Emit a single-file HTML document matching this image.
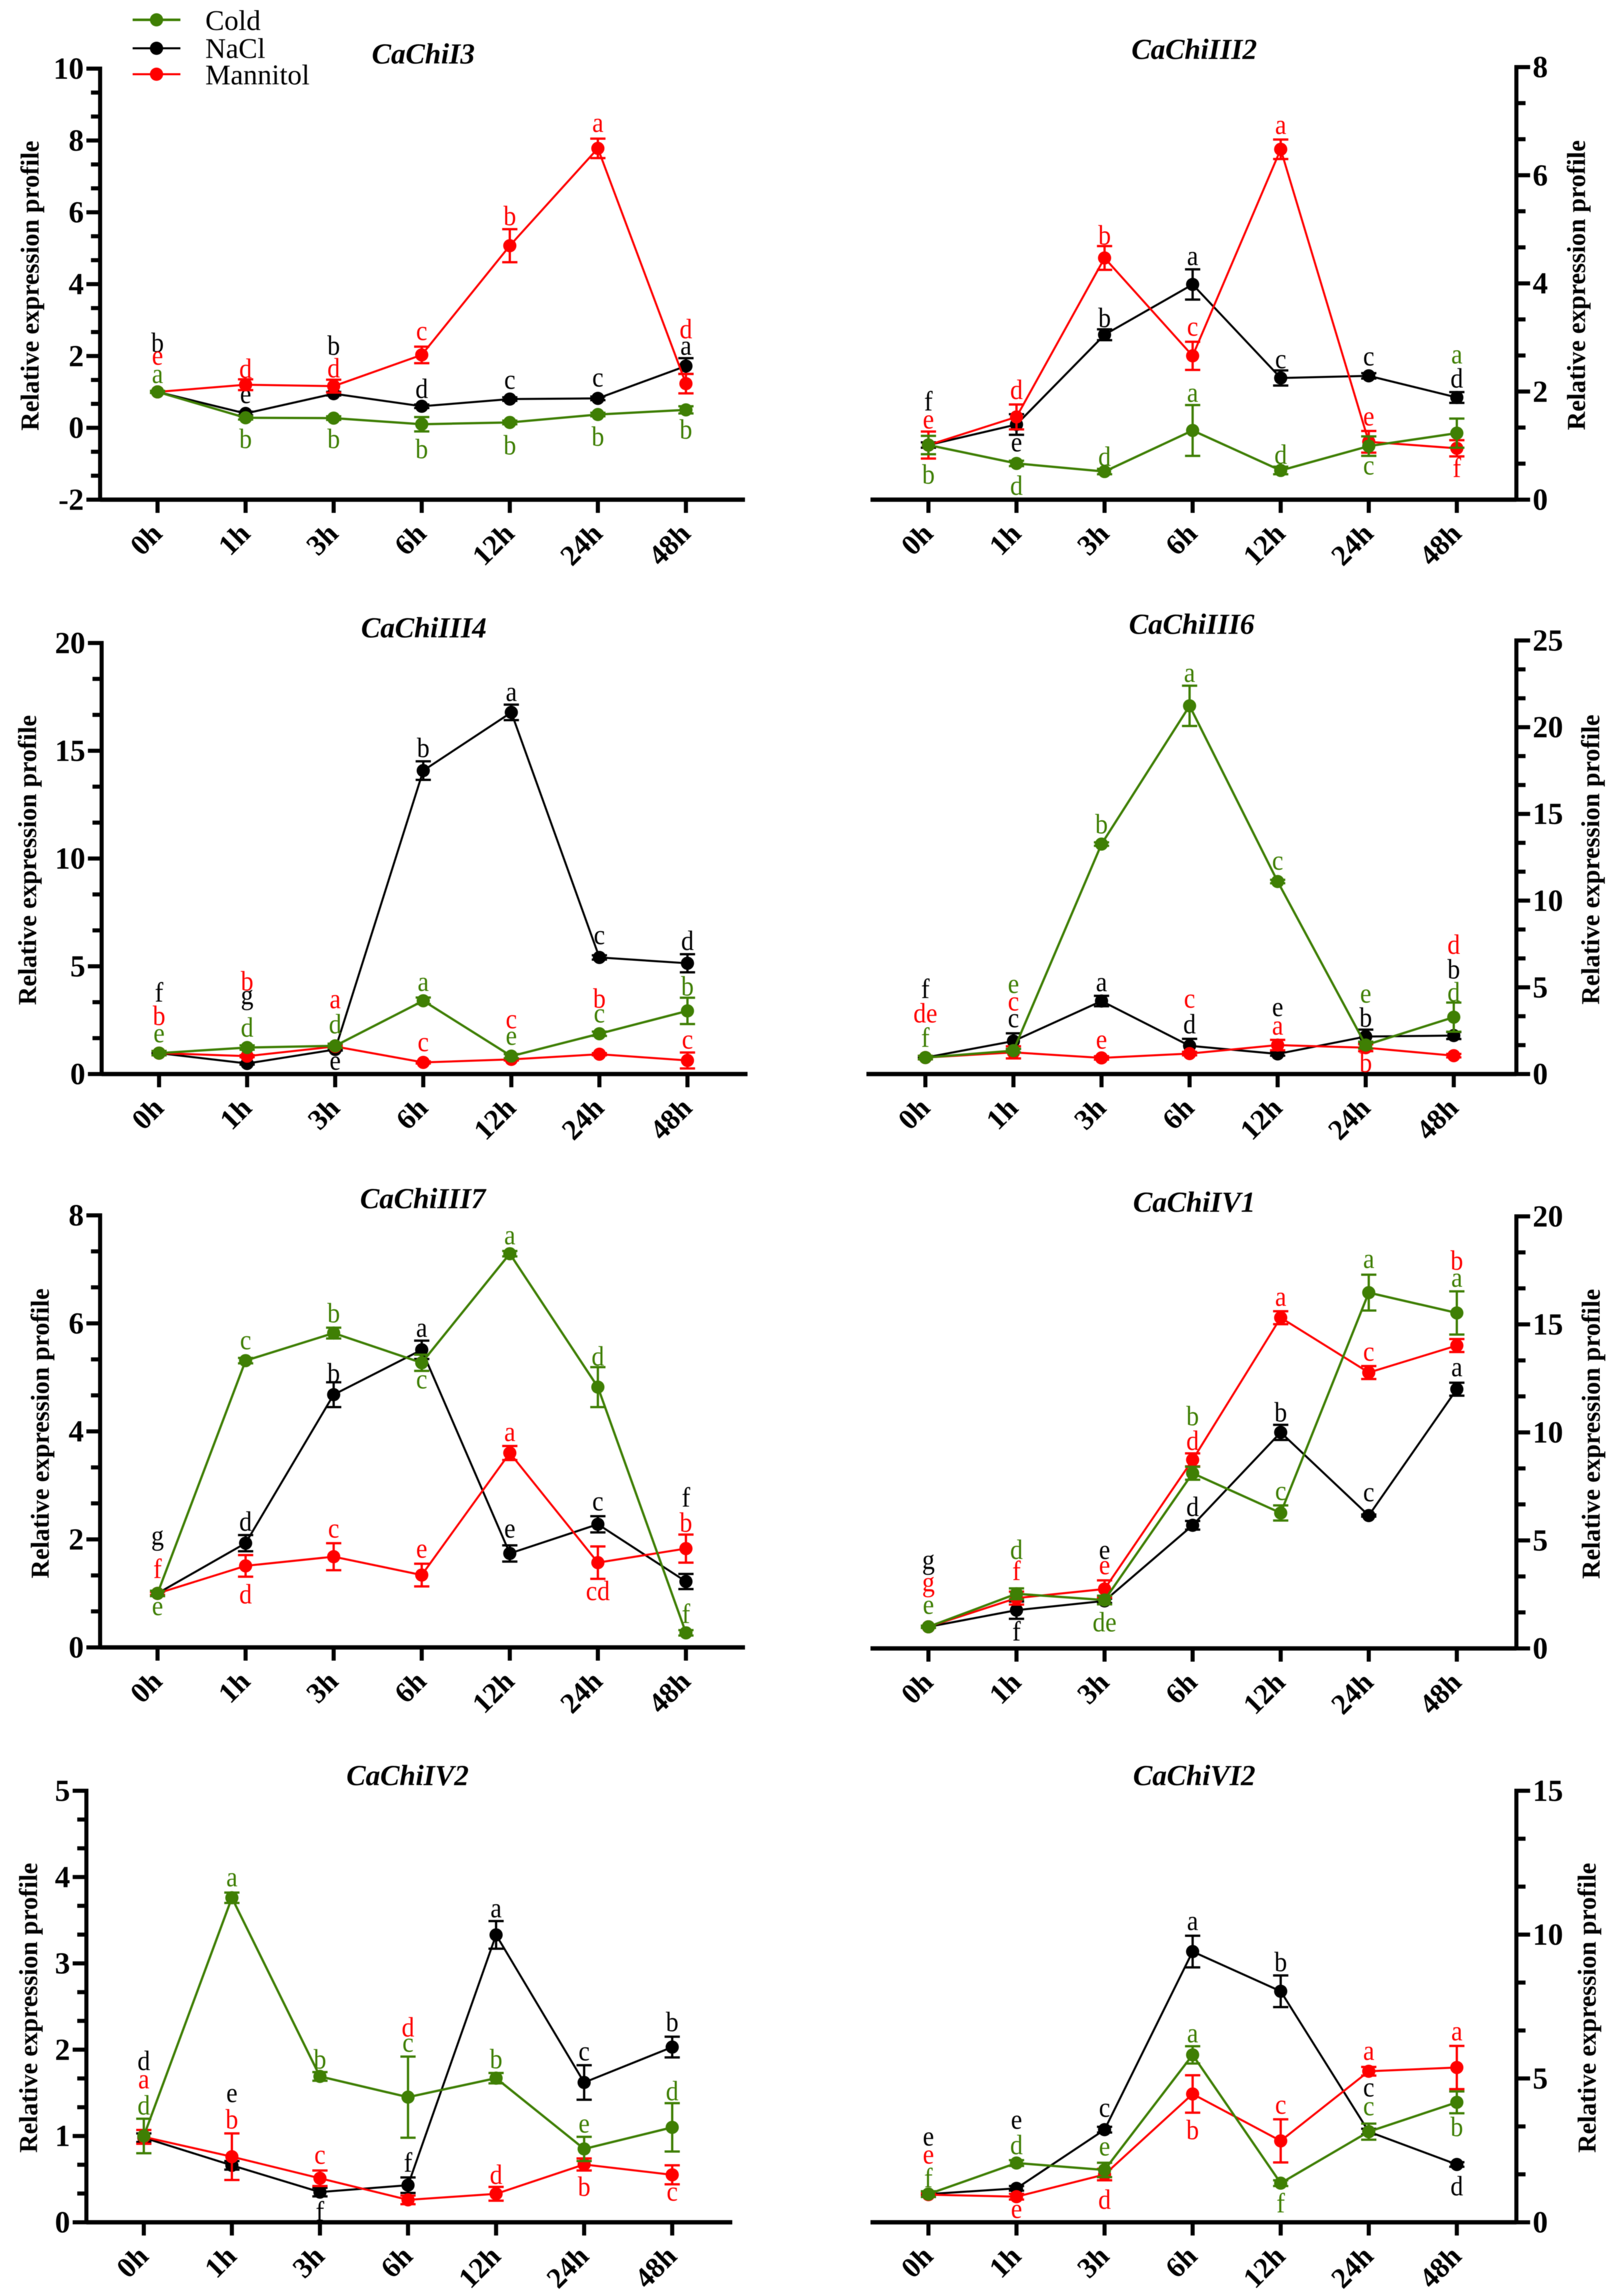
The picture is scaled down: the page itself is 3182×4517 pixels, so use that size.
<!DOCTYPE html>
<html lang="en">
<head>
<meta charset="utf-8">
<title>Relative expression profiles of CaChi genes</title>
<style>
html,body{margin:0;padding:0;background:#fff;}
#figure{display:block;width:3182px;height:4517px;font-family:"Liberation Serif",serif;filter:blur(0.6px);}
.panel-title{font-size:57px;font-weight:bold;font-style:italic;text-anchor:middle;}
.y-title{font-size:50.5px;font-weight:bold;text-anchor:middle;}
.legend-text{font-size:56px;}
</style>
</head>
<body>
<svg id="figure" xmlns="http://www.w3.org/2000/svg" width="3182" height="4517" viewBox="0 0 3182 4517">
  <rect x="0" y="0" width="3182" height="4517" fill="#fff"/>
  <g id="panels"></g>

  <g>
    <text class="panel-title" x="833" y="125">CaChiI3</text>
    <text class="panel-title" x="2350" y="116">CaChiIII2</text>
    <text class="panel-title" x="834" y="1254">CaChiIII4</text>
    <text class="panel-title" x="2345" y="1247">CaChiIII6</text>
    <text class="panel-title" x="832" y="2377">CaChiIII7</text>
    <text class="panel-title" x="2350" y="2384">CaChiIV1</text>
    <text class="panel-title" x="802" y="3512">CaChiIV2</text>
    <text class="panel-title" x="2350" y="3512">CaChiVI2</text>
  </g>

  <g>
    <text class="y-title" transform="translate(76,562) rotate(-90)">Relative expression profile</text>
    <text class="y-title" transform="translate(3119,561) rotate(-90)">Relative expression profile</text>
    <text class="y-title" transform="translate(71,1692) rotate(-90)">Relative expression profile</text>
    <text class="y-title" transform="translate(3147,1691) rotate(-90)">Relative expression profile</text>
    <text class="y-title" transform="translate(96,2820) rotate(-90)">Relative expression profile</text>
    <text class="y-title" transform="translate(3148,2821) rotate(-90)">Relative expression profile</text>
    <text class="y-title" transform="translate(73,3950) rotate(-90)">Relative expression profile</text>
    <text class="y-title" transform="translate(3140,3950) rotate(-90)">Relative expression profile</text>
  </g>

  <g>
    <g>
      <line x1="261" x2="355" y1="39" y2="39" stroke="#3f7f04" stroke-width="5"/>
      <circle cx="308" cy="39" r="13" fill="#3f7f04"/>
      <text class="legend-text" x="404" y="59">Cold</text>
    </g>
    <g>
      <line x1="261" x2="355" y1="95" y2="95" stroke="#000" stroke-width="4"/>
      <circle cx="308" cy="95" r="13" fill="#000"/>
      <text class="legend-text" x="404" y="114">NaCl</text>
    </g>
    <g>
      <line x1="261" x2="355" y1="146" y2="146" stroke="#f00" stroke-width="4"/>
      <circle cx="308" cy="146" r="13" fill="#f00"/>
      <text class="legend-text" x="404" y="166">Mannitol</text>
    </g>
  </g>
</svg>

<script>
// Shared category labels
const categories = ['0h','1h','3h','6h','12h','24h','48h'];

// CaChiI3
const p1Ticks = [-2,0,2,4,6,8,10];
const p1Cold = [1,0.28,0.27,0.1,0.15,0.37,0.5];
const p1ColdErr = [0.03,0.05,0.05,0.2,0.05,0.05,0.1];
const p1ColdLetters = ['a','b','b','b','b','b','b'];
const p1ColdDy = [-30,41,40,48,44,43,38];
const p1Nacl = [1,0.4,0.95,0.6,0.8,0.82,1.72];
const p1NaclErr = [0.02,0.05,0.05,0.05,0.05,0.05,0.22];
const p1NaclLetters = ['b','e','b','d','c','c','a'];
const p1NaclDy = [-97,-33,-95,-35,-33,-36,-35];
const p1Mann = [1,1.2,1.16,2.03,5.07,7.78,1.23];
const p1MannErr = [0.02,0.15,0.18,0.23,0.46,0.27,0.27];
const p1MannLetters = ['e','d','d','c','b','a','d'];
const p1MannDy = [-66,-32,-36,-42,-59,-45,-108];

// CaChiIII2
const p2Ticks = [0,2,4,6,8];
const p2Cold = [1.01,0.67,0.52,1.28,0.54,0.99,1.23];
const p2ColdErr = [0.17,0.05,0.05,0.47,0.07,0.18,0.27];
const p2ColdLetters = ['b','d','d','a','d','c','a'];
const p2ColdDy = [57,43,-30,-69,-32,43,-150];
const p2Nacl = [1.01,1.39,3.05,3.98,2.25,2.29,1.89];
const p2NaclErr = [0.05,0.19,0.1,0.28,0.14,0.05,0.1];
const p2NaclLetters = ['f','e','b','a','c','c','d'];
const p2NaclDy = [-87,40,-34,-51,-32,-33,-38];
const p2Mann = [1.01,1.53,4.47,2.66,6.48,1.07,0.95];
const p2MannErr = [0.25,0.23,0.22,0.26,0.18,0.2,0.15];
const p2MannLetters = ['e','d','b','c','a','e','f'];
const p2MannDy = [-45,-54,-45,-52,-43,-45,38];

// CaChiIII4
const p3Ticks = [0,5,10,15,20];
const p3Cold = [0.97,1.23,1.31,3.4,0.83,1.87,2.93];
const p3ColdErr = [0.1,0.1,0.1,0.15,0.1,0.1,0.61];
const p3ColdLetters = ['e','d','d','a','e','c','b'];
const p3ColdDy = [-34,-40,-43,-32,-35,-35,-49];
const p3Nacl = [0.97,0.49,1.14,14.08,16.78,5.41,5.14];
const p3NaclErr = [0.05,0.05,0.05,0.43,0.36,0.1,0.42];
const p3NaclLetters = ['f','g','e','b','a','c','d'];
const p3NaclDy = [-120,-123,27,-45,-35,-39,-45];
const p3Mann = [0.97,0.83,1.28,0.54,0.68,0.92,0.63];
const p3MannErr = [0.1,0.05,0.05,0.05,0.05,0.05,0.37];
const p3MannLetters = ['b','b','a','c','c','b','c'];
const p3MannDy = [-74,-148,-88,-35,-74,-110,-36];

// CaChiIII6
const p4Ticks = [0,5,10,15,20,25];
const p4Cold = [0.95,1.35,13.26,21.23,11.1,1.67,3.28];
const p4ColdErr = [0.1,0.1,0.1,1.16,0.1,0.2,0.84];
const p4ColdLetters = ['f','e','b','a','c','e','d'];
const p4ColdDy = [-40,-126,-40,-60,-36,-96,-50];
const p4Nacl = [0.95,1.9,4.21,1.63,1.16,2.16,2.22];
const p4NaclErr = [0.05,0.45,0.3,0.4,0.1,0.4,0.2];
const p4NaclLetters = ['f','c','a','d','e','b','b'];
const p4NaclDy = [-136,-40,-32,-43,-87,-38,-131];
const p4Mann = [0.95,1.25,0.93,1.18,1.67,1.52,1.06];
const p4MannErr = [0.1,0.35,0.1,0.1,0.3,0.2,0.1];
const p4MannLetters = ['de','c','e','c','a','b','d'];
const p4MannDy = [-88,-95,-31,-103,-33,29,-219];

// CaChiIII7
const p5Ticks = [0,2,4,6,8];
const p5Cold = [1,5.31,5.82,5.27,7.29,4.82,0.27];
const p5ColdErr = [0.05,0.05,0.1,0.15,0.05,0.37,0.05];
const p5ColdLetters = ['e','c','b','c','a','d','f'];
const p5ColdDy = [30,-35,-40,38,-31,-61,-38];
const p5Nacl = [1,1.93,4.68,5.51,1.74,2.28,1.22];
const p5NaclErr = [0.03,0.15,0.23,0.17,0.15,0.15,0.14];
const p5NaclLetters = ['g','d','b','a','e','c','f'];
const p5NaclDy = [-102,-43,-43,-38,-44,-40,-166];
const p5Mann = [1,1.51,1.68,1.34,3.6,1.57,1.83];
const p5MannErr = [0.03,0.2,0.25,0.21,0.13,0.3,0.26];
const p5MannLetters = ['f','d','c','e','a','cd','b'];
const p5MannDy = [-49,55,-50,-47,-36,61,-52];

// CaChiIV1
const p6Ticks = [0,5,10,15,20];
const p6Cold = [1,2.53,2.24,8.11,6.27,16.47,15.53];
const p6ColdErr = [0.05,0.25,0.2,0.3,0.35,0.83,1];
const p6ColdLetters = ['e','d','de','b','c','a','a'];
const p6ColdDy = [-38,-87,43,-113,-38,-61,-64];
const p6Nacl = [1,1.77,2.2,5.7,10,6.15,12];
const p6NaclErr = [0.05,0.4,0.1,0.2,0.35,0.05,0.3];
const p6NaclLetters = ['g','f','e','d','b','c','a'];
const p6NaclDy = [-120,41,-95,-37,-40,-41,-38];
const p6Mann = [1,2.33,2.75,8.73,15.31,12.77,14.02];
const p6MannErr = [0.05,0.3,0.4,0.3,0.3,0.3,0.3];
const p6MannLetters = ['g','f','e','d','a','c','b'];
const p6MannDy = [-76,-54,-42,-38,-36,-36,-168];

// CaChiIV2
const p7Ticks = [0,1,2,3,4,5];
const p7Cold = [1,3.76,1.69,1.45,1.67,0.85,1.1];
const p7ColdErr = [0.2,0.06,0.05,0.47,0.06,0.14,0.28];
const p7ColdLetters = ['d','a','b','c','b','e','d'];
const p7ColdDy = [-61,-35,-34,-102,-38,-45,-72];
const p7Nacl = [0.98,0.66,0.35,0.43,3.33,1.62,2.03];
const p7NaclErr = [0.05,0.05,0.05,0.09,0.16,0.2,0.12];
const p7NaclLetters = ['d','e','f','f','a','c','b'];
const p7NaclDy = [-152,-137,37,-45,-47,-56,-50];
const p7Mann = [0.99,0.76,0.51,0.26,0.33,0.67,0.55];
const p7MannErr = [0.08,0.27,0.09,0.05,0.08,0.07,0.11];
const p7MannLetters = ['a','b','c','d','d','b','c'];
const p7MannDy = [-108,-74,-41,-340,-38,43,38];

// CaChiVI2
const p8Ticks = [0,5,10,15];
const p8Cold = [0.98,2.06,1.82,5.82,1.36,3.15,4.17];
const p8ColdErr = [0.1,0.1,0.25,0.3,0.1,0.28,0.38];
const p8ColdLetters = ['f','d','e','a','f','c','b'];
const p8ColdDy = [-32,-36,-41,-37,39,-45,48];
const p8Nacl = [0.98,1.18,3.22,9.41,8.03,3.15,2.01];
const p8NaclErr = [0.05,0.08,0.1,0.55,0.55,0.1,0.08];
const p8NaclLetters = ['e','e','c','a','b','c','d'];
const p8NaclDy = [-108,-130,-38,-55,-58,-82,42];
const p8Mann = [0.96,0.89,1.66,4.46,2.83,5.25,5.38];
const p8MannErr = [0.05,0.1,0.2,0.65,0.75,0.15,0.75];
const p8MannLetters = ['e','e','d','b','c','a','a'];
const p8MannDy = [-74,29,49,70,-66,-35,-66];

const GREEN = '#3f7f04', RED = '#ff0000', BLACK = '#000000';
const SVGNS = 'http://www.w3.org/2000/svg';

function shape(parent, tag, attrs, text) {
  const node = document.createElementNS(SVGNS, tag);
  for (const k in attrs) node.setAttribute(k, attrs[k]);
  if (text !== undefined) node.textContent = text;
  parent.appendChild(node);
  return node;
}

// Panel frame geometry lives here; the data lives in the arrays above.
const panelFrames = [
  {id:'cachii3',   side:'left',  axisX:197, far:1466, top:135,  bottom:983,  tick0:310, ticks:p1Ticks,
   cold:[p1Cold,p1ColdErr,p1ColdLetters,p1ColdDy], nacl:[p1Nacl,p1NaclErr,p1NaclLetters,p1NaclDy], mann:[p1Mann,p1MannErr,p1MannLetters,p1MannDy]},
  {id:'cachiiii2', side:'right', axisX:2984, far:1713, top:132,  bottom:983,  tick0:1827, ticks:p2Ticks,
   cold:[p2Cold,p2ColdErr,p2ColdLetters,p2ColdDy], nacl:[p2Nacl,p2NaclErr,p2NaclLetters,p2NaclDy], mann:[p2Mann,p2MannErr,p2MannLetters,p2MannDy]},
  {id:'cachiiii4', side:'left',  axisX:200, far:1471, top:1265, bottom:2113, tick0:313, ticks:p3Ticks,
   cold:[p3Cold,p3ColdErr,p3ColdLetters,p3ColdDy], nacl:[p3Nacl,p3NaclErr,p3NaclLetters,p3NaclDy], mann:[p3Mann,p3MannErr,p3MannLetters,p3MannDy]},
  {id:'cachiiii6', side:'right', axisX:2984, far:1705, top:1260, bottom:2113, tick0:1821, ticks:p4Ticks,
   cold:[p4Cold,p4ColdErr,p4ColdLetters,p4ColdDy], nacl:[p4Nacl,p4NaclErr,p4NaclLetters,p4NaclDy], mann:[p4Mann,p4MannErr,p4MannLetters,p4MannDy]},
  {id:'cachiiii7', side:'left',  axisX:197, far:1466, top:2391, bottom:3241, tick0:310, ticks:p5Ticks,
   cold:[p5Cold,p5ColdErr,p5ColdLetters,p5ColdDy], nacl:[p5Nacl,p5NaclErr,p5NaclLetters,p5NaclDy], mann:[p5Mann,p5MannErr,p5MannLetters,p5MannDy]},
  {id:'cachiiv1',  side:'right', axisX:2984, far:1713, top:2393, bottom:3243, tick0:1827, ticks:p6Ticks,
   cold:[p6Cold,p6ColdErr,p6ColdLetters,p6ColdDy], nacl:[p6Nacl,p6NaclErr,p6NaclLetters,p6NaclDy], mann:[p6Mann,p6MannErr,p6MannLetters,p6MannDy]},
  {id:'cachiiv2',  side:'left',  axisX:170, far:1441, top:3523, bottom:4372, tick0:283, ticks:p7Ticks,
   cold:[p7Cold,p7ColdErr,p7ColdLetters,p7ColdDy], nacl:[p7Nacl,p7NaclErr,p7NaclLetters,p7NaclDy], mann:[p7Mann,p7MannErr,p7MannLetters,p7MannDy]},
  {id:'cachivi2',  side:'right', axisX:2984, far:1713, top:3523, bottom:4372, tick0:1827, ticks:p8Ticks,
   cold:[p8Cold,p8ColdErr,p8ColdLetters,p8ColdDy], nacl:[p8Nacl,p8NaclErr,p8NaclLetters,p8NaclDy], mann:[p8Mann,p8MannErr,p8MannLetters,p8MannDy]}
];

const TICK_STEP = 173.3;
const root = document.getElementById('panels');

function letterBaselineShift(letter) {
  if (/[bdfhkl]/.test(letter)) return 0.34;
  if (letter === 'g') return 0.12;
  return 0.23;
}

function drawSeries(group, frame, name, color, bundle, xScale, yScale) {
  const values = bundle[0], errs = bundle[1], letters = bundle[2], offsets = bundle[3];
  const lineWidth = color === GREEN ? 4.5 : 4;

  const errGroup = shape(group, 'g', {});
  
  
  values.forEach(function (v, i) {
    const x = xScale(i), hi = yScale(v + errs[i]), lo = yScale(v - errs[i]);
    const stem = shape(errGroup, 'path', {
      d: 'M' + (x - 15) + ' ' + hi + 'H' + (x + 15) + 'M' + x + ' ' + hi + 'V' + lo + 'M' + (x - 15) + ' ' + lo + 'H' + (x + 15),
      stroke: color, 'stroke-width': 4.5, fill: 'none'
    });
    
    
  });

  const line = shape(group, 'polyline', {
    points: values.map(function (v, i) { return xScale(i) + ',' + yScale(v); }).join(' '),
    fill: 'none', stroke: color, 'stroke-width': lineWidth, 'stroke-linejoin': 'miter'
  });
  
  

  values.forEach(function (v, i) {
    const dot = shape(group, 'circle', { cx: xScale(i), cy: yScale(v), r: 13, fill: color });
    
    
  });

  const fs = 50, stretch = 1.1;
  values.forEach(function (v, i) {
    const ly = yScale(v) + offsets[i] + letterBaselineShift(letters[i].charAt(0)) * fs * stretch;
    const label = shape(group, 'text', {
      transform: 'translate(' + xScale(i) + ',' + ly + ') scale(1,' + stretch + ')',
      fill: color, 'font-size': fs, 'text-anchor': 'middle'
    }, letters[i]);
    
    
  });
}

panelFrames.forEach(function (frame) {
  const left = frame.side === 'left';
  const outward = left ? -1 : 1;
  const yMin = frame.ticks[0], yMax = frame.ticks[frame.ticks.length - 1];
  const yScale = function (v) { return frame.bottom - (v - yMin) / (yMax - yMin) * (frame.bottom - frame.top); };
  const xScale = function (i) { return frame.tick0 + i * TICK_STEP; };

  const g = shape(root, 'g', {});
  
  

  const axes = shape(g, 'g', {});
  
  

  const yAxis = shape(axes, 'line', { x1: frame.axisX, x2: frame.axisX, y1: frame.top - 4, y2: frame.bottom + 4, stroke: '#000', 'stroke-width': 8 });
  
  

  const xAxis = shape(axes, 'line', { x1: Math.min(frame.far, frame.axisX), x2: Math.max(frame.far, frame.axisX), y1: frame.bottom, y2: frame.bottom, stroke: '#000', 'stroke-width': 8.5 });
  
  

  frame.ticks.forEach(function (t, k) {
    const y = yScale(t);
    const major = shape(axes, 'line', { x1: frame.axisX, x2: frame.axisX + outward * 27, y1: y, y2: y, stroke: '#000', 'stroke-width': 8 });
    
    

    const label = shape(axes, 'text', {
      x: frame.axisX + outward * 32, y: y + 20,
      'font-size': 60, 'font-weight': 'bold',
      'text-anchor': left ? 'end' : 'start'
    }, String(t));
    
    

    if (k < frame.ticks.length - 1) {
      [1, 2].forEach(function (m) {
        const ym = yScale(t + (frame.ticks[k + 1] - t) * m / 3);
        const minor = shape(axes, 'line', { x1: frame.axisX, x2: frame.axisX + outward * 18, y1: ym, y2: ym, stroke: '#000', 'stroke-width': 8 });
        
        
      });
    }
  });

  categories.forEach(function (c, i) {
    const x = xScale(i);
    const tick = shape(axes, 'line', { x1: x, x2: x, y1: frame.bottom, y2: frame.bottom + 26, stroke: '#000', 'stroke-width': 8 });
    
    

    const label = shape(axes, 'text', {
      transform: 'translate(' + (x + 12) + ',' + (frame.bottom + 70) + ') rotate(-45)',
      'font-size': 57, 'font-weight': 'bold', 'text-anchor': 'end'
    }, c);
    
    
  });

  const nacl = shape(g, 'g', {});
  
  
  drawSeries(nacl, frame, 'nacl', BLACK, frame.nacl, xScale, yScale);

  const mann = shape(g, 'g', {});
  
  
  drawSeries(mann, frame, 'mannitol', RED, frame.mann, xScale, yScale);

  const cold = shape(g, 'g', {});
  
  
  drawSeries(cold, frame, 'cold', GREEN, frame.cold, xScale, yScale);
});
</script>
</body>
</html>
